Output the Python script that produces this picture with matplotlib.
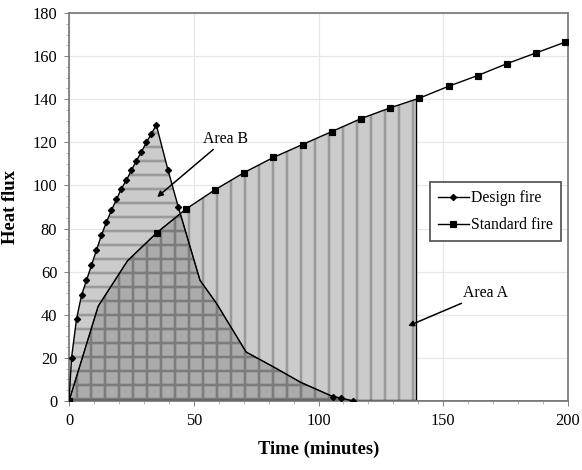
import numpy as np
import matplotlib
matplotlib.use("Agg")
import matplotlib.pyplot as plt
from matplotlib.ticker import MultipleLocator

# Design fire (minutes, heat flux)
design_t = [0, 1, 3, 5, 7, 9, 11, 13, 15, 17, 19, 21, 23, 25, 27, 29, 31, 33, 35,
            39.7, 43.8, 52.5, 59, 71, 82, 92.6, 105.8, 109, 113.8]
design_q = [0, 20, 38, 49, 56, 63, 70, 77, 83, 88.5, 93.5, 98.5, 102.5, 107, 111.5,
            115.5, 120, 124, 128, 107, 90, 56, 45.5, 22.7, 15.8, 8.8, 2, 1.4, 0]
design_marked = [0, 1, 2, 3, 4, 5, 6, 7, 8, 9, 10, 11, 12, 13, 14, 15, 16, 17, 18,
                 19, 20, 26, 27, 28]

# Standard fire
standard_t = [0, 11.7, 23.4, 35.1, 46.8, 58.5, 70.2, 81.9, 93.6, 105.3, 117, 128.7,
              140.4, 152.1, 163.8, 175.5, 187.2, 198.9]
standard_q = [0, 44, 65, 78, 89, 98, 106, 113, 119, 125, 131, 136, 140.5, 146, 151,
              156.5, 161.5, 166.5]
standard_marked = [0] + list(range(3, 18))

area_a_end = 139

plt.rcParams["font.family"] = ["Liberation Serif", "DejaVu Serif"]
plt.rcParams["hatch.linewidth"] = 2.2

fig = plt.figure(figsize=(582 / 84, 470 / 84), dpi=84)
ax = fig.add_axes([0.1186, 0.1468, 0.8574, 0.8255])

grid_t = np.linspace(0, 200, 2001)
std_on_grid = np.interp(grid_t, standard_t, standard_q)
des_on_grid = np.interp(grid_t, design_t, design_q, right=0)
in_a = grid_t <= area_a_end

light = "#cbcbcb"
stripe = "#9a9a9a"

# Area A: under standard fire (vertical stripes)
ax.fill_between(grid_t[in_a], 0, std_on_grid[in_a], facecolor=light,
                edgecolor=stripe, hatch="|", linewidth=0, zorder=1)
# Area B: under design fire (horizontal stripes)
ax.fill_between(design_t, 0, design_q, facecolor=light,
                edgecolor=stripe, hatch="-", linewidth=0, zorder=1.1)
# overlap of both -> cross hatch
overlap = np.minimum(std_on_grid, des_on_grid)
ax.fill_between(grid_t, 0, overlap, facecolor="#ababab",
                edgecolor="#7c7c7c", hatch="+", linewidth=0, zorder=1.2)
ax.plot(grid_t, overlap, color="black", lw=0.8, zorder=1.3)
ax.vlines(area_a_end, 0, np.interp(area_a_end, standard_t, standard_q),
          color="black", lw=1.2, zorder=1.3)
ax.plot([0, area_a_end], [0, 0], color="black", lw=2, zorder=1.3)

ax.plot(design_t, design_q, color="black", lw=1.2, marker="D", markersize=3.8,
        markevery=design_marked, label="Design fire", zorder=3)
ax.plot(standard_t, standard_q, color="black", lw=1.2, marker="s", markersize=5.5,
        markevery=standard_marked, label="Standard fire", zorder=3)

ax.set_xlim(0, 200)
ax.set_ylim(0, 180)
ax.xaxis.set_major_locator(MultipleLocator(50))
ax.xaxis.set_minor_locator(MultipleLocator(10))
ax.yaxis.set_major_locator(MultipleLocator(20))
ax.yaxis.set_minor_locator(MultipleLocator(5))
ax.grid(True, which="major", color="#e6e6e6", lw=1, zorder=0)
ax.set_axisbelow(True)
for s in ax.spines.values():
    s.set_color("#7a7a7a")
    s.set_linewidth(1.5)
ax.tick_params(which="major", length=4, color="#7a7a7a", labelsize=14, pad=6)
ax.tick_params(which="minor", length=2.5, color="#9a9a9a")

ax.set_xlabel("Time (minutes)", fontsize=16, fontweight="bold", labelpad=10)
ax.set_ylabel("Heat flux", fontsize=16, fontweight="bold", labelpad=12)

ax.annotate("Area B", xy=(35.3, 94.6), xytext=(53.7, 117.8), fontsize=13.5,
            ha="left", va="bottom",
            arrowprops=dict(arrowstyle="-|>", color="black", lw=1.3,
                            mutation_scale=10, shrinkA=0, shrinkB=0))
ax.annotate("Area A", xy=(135.9, 34.8), xytext=(158, 46.4), fontsize=13.5,
            ha="left", va="bottom",
            arrowprops=dict(arrowstyle="-|>", color="black", lw=1.3,
                            mutation_scale=10, shrinkA=0, shrinkB=0))

leg = ax.legend(loc="upper left", bbox_to_anchor=(0.723, 0.564), fontsize=13.5,
                frameon=True, fancybox=False, handlelength=2.0, borderaxespad=0,
                borderpad=0.5, labelspacing=0.7, handletextpad=0.1)
leg.get_frame().set_edgecolor("#555555")
leg.get_frame().set_linewidth(1.5)
leg.get_frame().set_alpha(1)

fig.savefig("out.png", dpi=84)
